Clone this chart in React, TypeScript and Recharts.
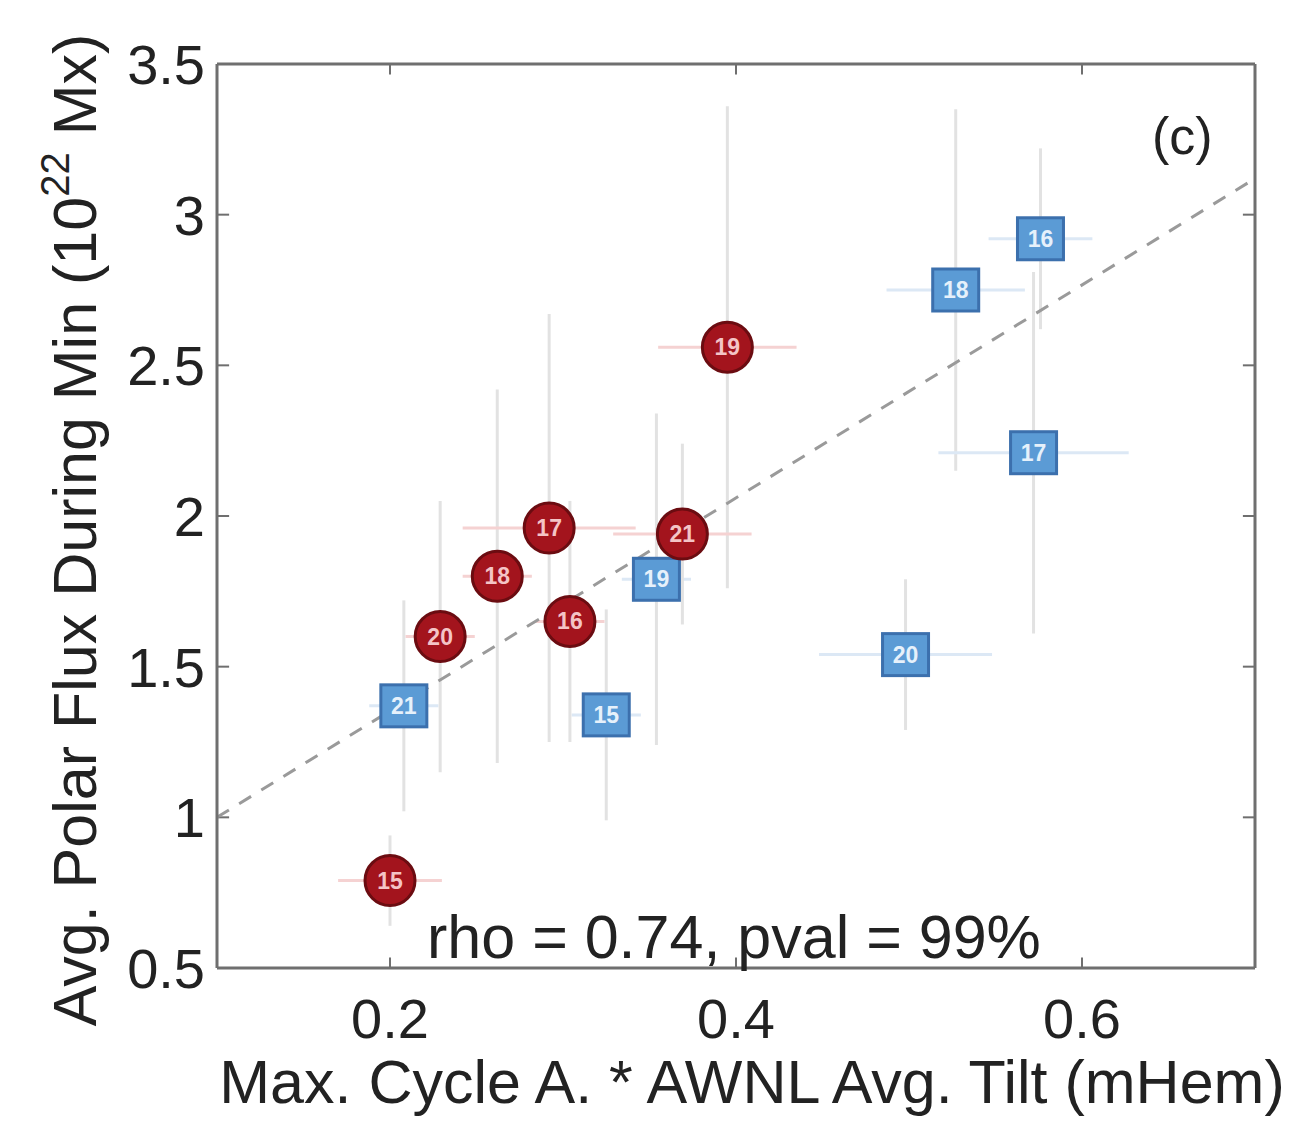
import {
  ScatterChart,
  Scatter,
  XAxis,
  YAxis,
  ErrorBar,
  ReferenceLine,
  ReferenceDot,
  Label,
} from 'recharts'

const FONT = '"Liberation Sans", Arial, Helvetica, sans-serif'

// red circles (one hemisphere), labelled by cycle number
const redLabels = ['15', '16', '17', '18', '19', '20', '21']
const redX = [0.2, 0.304, 0.292, 0.262, 0.395, 0.229, 0.369]
const redY = [0.79, 1.65, 1.96, 1.8, 2.56, 1.6, 1.94]
const redErrX = [0.03, 0.02, 0.05, 0.02, 0.04, 0.02, 0.04]
const redErrY = [0.15, 0.4, 0.71, 0.62, 0.8, 0.45, 0.3]

// blue squares (other hemisphere)
const blueLabels = ['15', '16', '17', '18', '19', '20', '21']
const blueX = [0.325, 0.576, 0.572, 0.527, 0.354, 0.498, 0.208]
const blueY = [1.34, 2.92, 2.21, 2.75, 1.79, 1.54, 1.37]
const blueErrX = [0.02, 0.03, 0.055, 0.04, 0.02, 0.05, 0.02]
const blueErrY = [0.35, 0.3, 0.6, 0.6, 0.55, 0.25, 0.35]

// dashed linear fit
const fitX = [0.1, 0.7]
const fitY = [1.0, 3.12]

const xTicks = [0.2, 0.4, 0.6]
const yTicks = [0.5, 1, 1.5, 2, 2.5, 3, 3.5]

const redData = redLabels.map((label, i) => ({
  label,
  x: redX[i],
  y: redY[i],
  ex: redErrX[i],
  ey: redErrY[i],
}))

const blueData = blueLabels.map((label, i) => ({
  label,
  x: blueX[i],
  y: blueY[i],
  ex: blueErrX[i],
  ey: blueErrY[i],
}))

const RedCircle = (props: any) => {
  const { cx, cy, payload } = props
  return (
    <g>
      <circle cx={cx} cy={cy} r={25} fill="#a3141d" stroke="#6b0c11" strokeWidth={3} />
      <text
        x={cx}
        y={cy + 8}
        textAnchor="middle"
        fontSize={23}
        fontWeight="bold"
        fontFamily={FONT}
        fill="#f4c4c6"
      >
        {payload.label}
      </text>
    </g>
  )
}

const BlueSquare = (props: any) => {
  const { cx, cy, payload } = props
  return (
    <g>
      <rect x={cx - 23} y={cy - 21} width={46} height={42} fill="#5b9bd5" stroke="#3c70ad" strokeWidth={3} />
      <text
        x={cx}
        y={cy + 8}
        textAnchor="middle"
        fontSize={23}
        fontWeight="bold"
        fontFamily={FONT}
        fill="#e6f1fb"
      >
        {payload.label}
      </text>
    </g>
  )
}

const YLabel = (props: any) => {
  const { viewBox } = props
  const x = viewBox.x + 96
  const y = viewBox.y + viewBox.height / 2 + 14
  return (
    <text
      x={x}
      y={y}
      transform={`rotate(-90, ${x}, ${y})`}
      textAnchor="middle"
      fontSize={61}
      fontFamily={FONT}
      fill="#222"
    >
      Avg. Polar Flux During Min (10
      <tspan fontSize={40} dy={-27}>22</tspan>
      <tspan dy={27}> Mx)</tspan>
    </text>
  )
}

const XLabel = (props: any) => {
  const { viewBox } = props
  return (
    <text
      x={viewBox.x + viewBox.width / 2 + 16}
      y={viewBox.y + 135}
      textAnchor="middle"
      fontSize={61}
      fontFamily={FONT}
      fill="#222"
    >
      Max. Cycle A. * AWNL Avg. Tilt (mHem)
    </text>
  )
}

const tickStyle = { fontSize: 56, fill: '#222', fontFamily: FONT }
const AXIS = '#6f6f6f'

export default function App() {
  return (
    <div style={{ position: 'absolute', left: 0, top: 0, width: 1316, height: 1125, background: '#fff' }}>
      <ScatterChart width={1316} height={1125} margin={{ top: 64, right: 61, left: 0, bottom: 0 }}>
        <XAxis
          type="number"
          dataKey="x"
          domain={[0.1, 0.7]}
          ticks={xTicks}
          tick={tickStyle}
          tickLine={false}
          tickSize={0}
          tickMargin={30}
          height={157}
          stroke={AXIS}
          strokeWidth={3}
          allowDataOverflow
        >
          <Label content={XLabel} />
        </XAxis>
        <YAxis
          type="number"
          dataKey="y"
          domain={[0.5, 3.5]}
          ticks={yTicks}
          tick={tickStyle}
          tickLine={false}
          tickSize={0}
          tickMargin={12}
          width={217}
          stroke={AXIS}
          strokeWidth={3}
          allowDataOverflow
        >
          <Label content={YLabel} />
        </YAxis>

        {/* box */}
        <ReferenceLine x={0.7} stroke={AXIS} strokeWidth={3} />
        <ReferenceLine y={3.5} stroke={AXIS} strokeWidth={3} />

        {/* inward ticks on all four sides */}
        {xTicks.map((t) => (
          <ReferenceLine key={`xb${t}`} segment={[{ x: t, y: 0.5 }, { x: t, y: 0.535 }]} stroke={AXIS} strokeWidth={2} />
        ))}
        {xTicks.map((t) => (
          <ReferenceLine key={`xt${t}`} segment={[{ x: t, y: 3.5 }, { x: t, y: 3.465 }]} stroke={AXIS} strokeWidth={2} />
        ))}
        {yTicks.map((t) => (
          <ReferenceLine key={`yl${t}`} segment={[{ x: 0.1, y: t }, { x: 0.107, y: t }]} stroke={AXIS} strokeWidth={2} />
        ))}
        {yTicks.map((t) => (
          <ReferenceLine key={`yr${t}`} segment={[{ x: 0.7, y: t }, { x: 0.693, y: t }]} stroke={AXIS} strokeWidth={2} />
        ))}

        <Scatter data={blueData} shape={BlueSquare} isAnimationActive={false}>
          <ErrorBar dataKey="ey" direction="y" width={0} stroke="#e2e2e2" strokeWidth={3} />
          <ErrorBar dataKey="ex" direction="x" width={0} stroke="#dce8f5" strokeWidth={3} />
        </Scatter>
        <Scatter data={redData} shape={RedCircle} isAnimationActive={false}>
          <ErrorBar dataKey="ey" direction="y" width={0} stroke="#e2e2e2" strokeWidth={3} />
          <ErrorBar dataKey="ex" direction="x" width={0} stroke="#f5d2d2" strokeWidth={3} />
        </Scatter>

        <ReferenceLine
          segment={[{ x: fitX[0], y: fitY[0] }, { x: fitX[1], y: fitY[1] }]}
          stroke="#9a9a9a"
          strokeWidth={3}
          strokeDasharray="14 12"
        />

        <ReferenceDot
          x={0.658}
          y={3.2}
          r={0}
          shape={(p: any) => (
            <text x={p.cx} y={p.cy} textAnchor="middle" fontSize={52} fontFamily={FONT} fill="#222">
              (c)
            </text>
          )}
        />
        <ReferenceDot
          x={0.2214}
          y={0.533}
          r={0}
          shape={(p: any) => (
            <text x={p.cx} y={p.cy} textAnchor="start" fontSize={61} fontFamily={FONT} fill="#222">
              rho = 0.74, pval = 99%
            </text>
          )}
        />
      </ScatterChart>
    </div>
  )
}
